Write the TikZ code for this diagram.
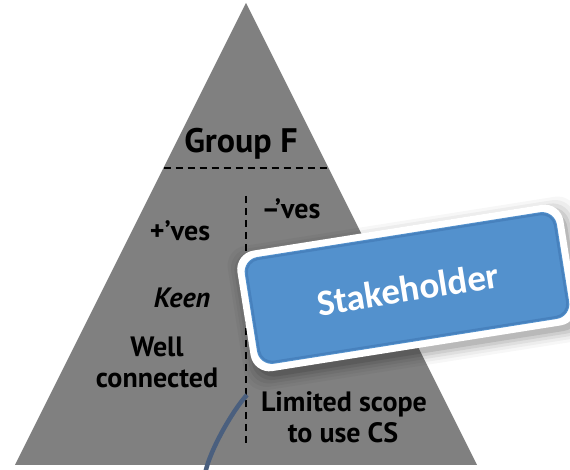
\documentclass[tikz,border=0pt]{standalone}
\usepackage{fontspec}
\newfontfamily\dinfont{PT Sans}
\newfontfamily\califont{Carlito}
\definecolor{trigray}{RGB}{128,128,128}
\definecolor{stakeblue}{RGB}{83,145,205}
\definecolor{stakedark}{RGB}{58,110,170}
\definecolor{curveblue}{RGB}{74,95,126}
\tikzset{
  lbl/.style={anchor=base, font=\dinfont\bfseries\fontsize{28}{32}\selectfont, inner sep=0pt},
  title/.style={anchor=base, font=\dinfont\bfseries\fontsize{34}{38}\selectfont, inner sep=0pt},
  divider/.style={draw=black, line width=1.6pt, dash pattern=on 7pt off 5pt},
}
\begin{document}
\begin{tikzpicture}[x=1pt,y=1pt]
\useasboundingbox (0,0) rectangle (570,470);
% triangle
\fill[trigray] (246,467) -- (477,5) -- (15,5) -- cycle;
% dividers
\coordinate (hl) at (163.5,302);
\coordinate (hr) at (328.5,302);
\coordinate (vt) at (246,274);
\coordinate (vb) at (246,27);
\draw[divider] (hl) -- (hr);
\draw[divider] (vt) -- (vb);
% texts
\node[title] (grp) at (241,317) {Group F};
\node[lbl] (neg) at (291,251) {–’ves};
\node[lbl] (pos) at (180,229) {+’ves};
\node[lbl, font=\dinfont\bfseries\itshape\fontsize{28}{32}\selectfont] (keen) at (182,162) {Keen};
\node[lbl] (well) at (157,113) {Well};
\node[lbl] (conn) at (157,82) {connected};
\node[lbl] (lim) at (344,58) {Limited scope};
\node[lbl] (cs) at (343,27) {to use CS};
% curve
\coordinate (cs1) at (247,75);
\coordinate (cs2) at (205,-4);
\draw[curveblue, line width=4.5pt] (cs1) .. controls (236,64) and (210,22) .. (cs2);
% stakeholder box
\begin{scope}[shift={(407,182)}, rotate=9]
  \foreach \s/\o in {12/0.03,9/0.04,6/0.06,3/0.08,0/0.1}{
    \fill[black, opacity=\o, rounded corners=20pt] (-165-\s+3,-61-\s-6) rectangle (165+\s+3,61+\s-6);
  }
  \fill[white, rounded corners=19pt] (-165,-61) rectangle (165,61);
  \fill[stakeblue, rounded corners=15pt] (-158,-54) rectangle (158,54);
  \draw[stakedark, opacity=0.45, line width=2.2pt, rounded corners=13pt] (-156,-52) rectangle (156,52);
\end{scope}
\node[rotate=9, text=white, inner sep=0pt, font=\califont\bfseries\fontsize{37}{40}\selectfont] (stake) at (408,181) {Stakeholder};
\end{tikzpicture}
\end{document}
